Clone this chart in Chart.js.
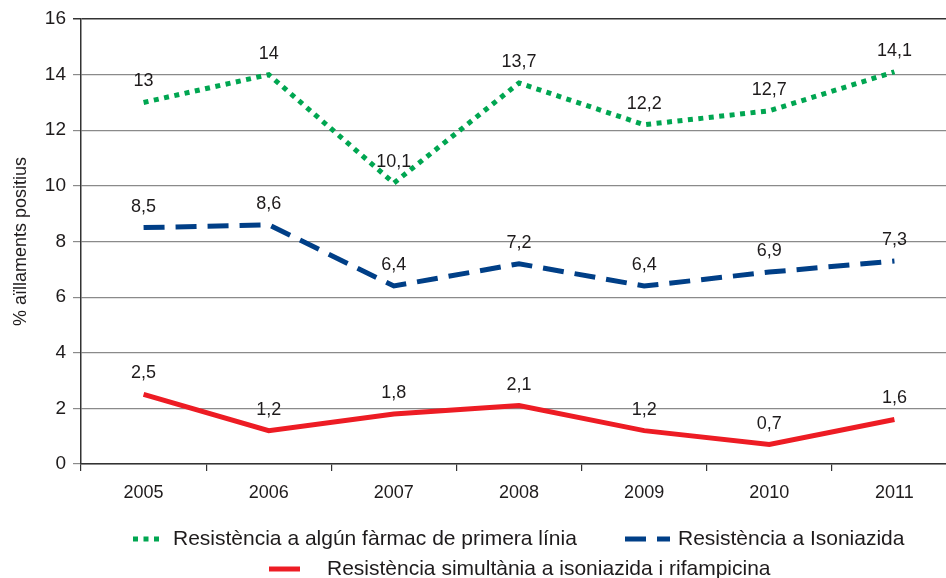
<!DOCTYPE html>
<html><head><meta charset="utf-8">
<script src="https://cdn.jsdelivr.net/npm/chart.js@4.4.0/dist/chart.umd.min.js"></script>
<style>
html,body{margin:0;padding:0;background:#fff;overflow:hidden}
#wrap{width:946px;height:578px;overflow:hidden;position:relative;background:#fff}
canvas{display:block}
</style></head><body>
<div id="wrap"><canvas id="c" width="957" height="578"></canvas></div>
<script>
const categories = ['2005','2006','2007','2008','2009','2010','2011'];
const seriesAnyDrug = [13, 14, 10.1, 13.7, 12.2, 12.7, 14.1];
const seriesIsoniazid = [8.5, 8.6, 6.4, 7.2, 6.4, 6.9, 7.3];
const seriesIsoRif = [2.5, 1.2, 1.8, 2.1, 1.2, 0.7, 1.6];
const seriesNames = [
  'Resistència a algún fàrmac de primera línia',
  'Resistència a Isoniazida',
  'Resistència simultània a isoniazida i rifampicina'
];
const yTickMin = 0, yTickMax = 16, yTickStep = 2;
const yTitle = '% aïllaments positius';

const FONT = '"Liberation Sans", Arial, Helvetica, sans-serif';
const TEXT = '#1e1b1c';
const COLORS = ['#00a651', '#003f87', '#ed1c24'];
const DASHES = [[5, 5.5], [21, 11], []];

const fmt = v => String(v).replace('.', ',');

const dataLabels = {
  id: 'dataLabels',
  afterDatasetsDraw(chart) {
    const ctx = chart.ctx;
    ctx.save();
    ctx.font = '18px ' + FONT;
    ctx.fillStyle = TEXT;
    ctx.textAlign = 'center';
    ctx.textBaseline = 'middle';
    chart.data.datasets.forEach((ds, i) => {
      const meta = chart.getDatasetMeta(i);
      meta.data.forEach((pt, j) => {
        ctx.fillText(fmt(ds.data[j]), pt.x, pt.y - 21);
      });
    });
    ctx.restore();
  }
};

const legendSpots = [
  {sx: 133, sw: 27, tx: 173, y: 539},
  {sx: 625, sw: 45, tx: 678, y: 539},
  {sx: 269, sw: 31, tx: 327, y: 569}
];
const customLegend = {
  id: 'customLegend',
  afterDraw(chart) {
    const ctx = chart.ctx;
    ctx.save();
    chart.data.datasets.forEach((ds, i) => {
      const s = legendSpots[i];
      ctx.beginPath();
      ctx.strokeStyle = ds.borderColor;
      ctx.lineWidth = 5;
      ctx.lineCap = 'butt';
      ctx.setLineDash(ds.borderDash || []);
      ctx.moveTo(s.sx, s.y);
      ctx.lineTo(s.sx + s.sw, s.y);
      ctx.stroke();
      ctx.setLineDash([]);
      ctx.font = '21px ' + FONT;
      ctx.fillStyle = TEXT;
      ctx.textAlign = 'left';
      ctx.textBaseline = 'middle';
      ctx.fillText(ds.label, s.tx, s.y);
    });
    ctx.restore();
  }
};

const mk = (i, data) => ({
  label: seriesNames[i],
  data: data,
  borderColor: COLORS[i],
  backgroundColor: COLORS[i],
  borderWidth: 5,
  borderDash: DASHES[i],
  borderCapStyle: 'butt',
  borderJoinStyle: 'miter',
  pointRadius: 0,
  pointHoverRadius: 0,
  tension: 0,
  fill: false
});

new Chart(document.getElementById('c'), {
  type: 'line',
  data: {
    labels: categories,
    datasets: [mk(0, seriesAnyDrug), mk(1, seriesIsoniazid), mk(2, seriesIsoRif)]
  },
  options: {
    responsive: false,
    animation: false,
    devicePixelRatio: 1,
    layout: {padding: {top: 19, right: 0, bottom: 0, left: 0}},
    plugins: {legend: {display: false}, tooltip: {enabled: false}},
    scales: {
      x: {
        offset: true,
        grid: {display: true, drawOnChartArea: false, offset: true, tickLength: 7, color: '#333', lineWidth: 1.2},
        border: {display: true, color: '#333', width: 1.5},
        ticks: {color: TEXT, font: {size: 18, family: FONT}, padding: 11, maxRotation: 0},
        afterFit(s) { s.height = 114; }
      },
      y: {
        min: yTickMin, max: yTickMax,
        ticks: {stepSize: yTickStep, color: TEXT, font: {size: 19, family: FONT}, padding: 7},
        grid: {
          tickLength: 8,
          color: c => (c.tick && c.tick.value === yTickMax) ? '#333' : '#8a8a8a',
          lineWidth: c => (c.tick && c.tick.value === yTickMax) ? 1.5 : 1.2
        },
        border: {display: true, color: '#333', width: 1.5},
        title: {display: true, text: yTitle, color: TEXT, font: {size: 18, family: FONT}, padding: {top: 10, bottom: 0}},
        afterFit(s) { s.width = 81; }
      }
    }
  },
  plugins: [dataLabels, customLegend]
});
</script>
</body></html>
